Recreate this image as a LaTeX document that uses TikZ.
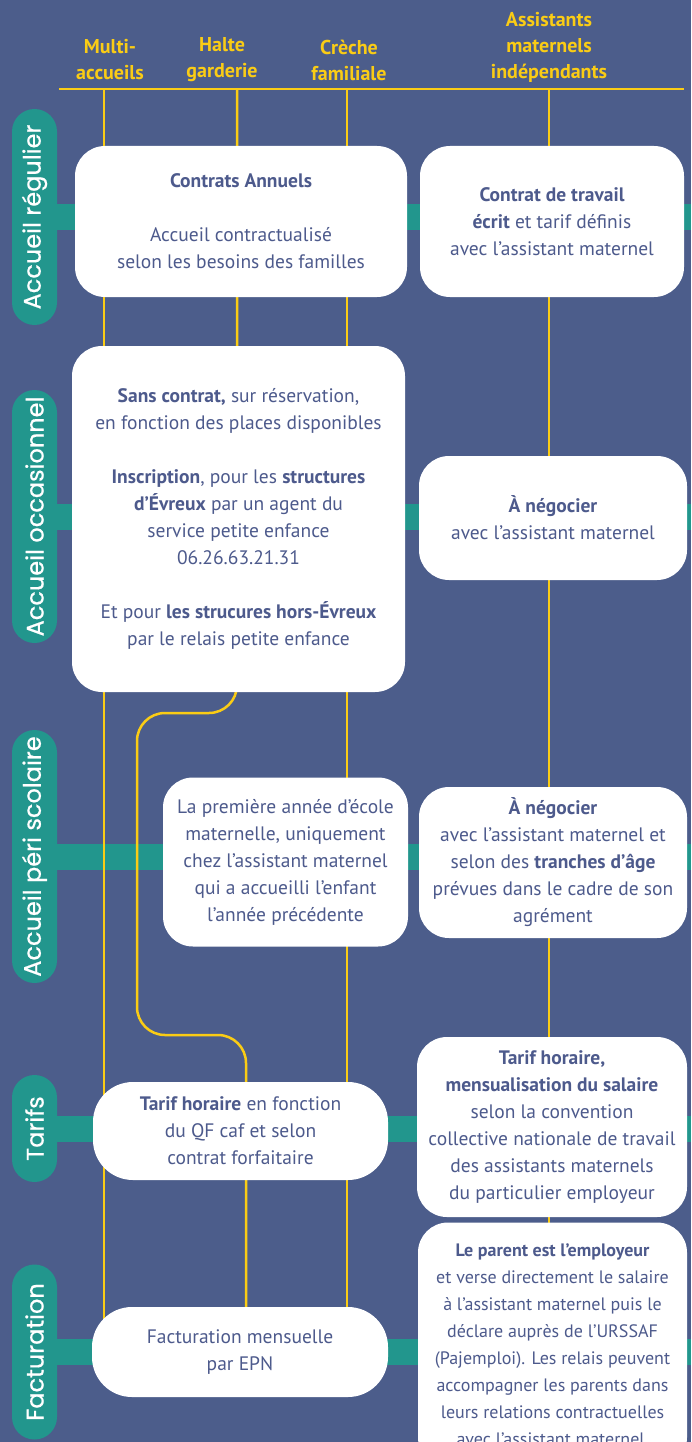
\documentclass[tikz,border=0pt]{standalone}
\usepackage{fontspec}
\setmainfont{PT Sans}
\newfontfamily\pillfont[FakeBold=0.6]{Poppins}
\usetikzlibrary{backgrounds}
\definecolor{bgblue}{RGB}{76,93,139}
\definecolor{bandteal}{RGB}{34,150,141}
\definecolor{lineyellow}{RGB}{250,204,21}
\definecolor{boxtext}{RGB}{77,90,140}

\begin{document}
\begin{tikzpicture}[x=1pt,y=-1pt,
    box/.style={fill=white,rounded corners=30pt,inner sep=0pt,align=center,text=boxtext,font=\fontsize{19.5}{27}\selectfont},
    pill/.style={fill=bandteal,rounded corners=22.5pt,minimum height=45pt,inner sep=0pt,rotate=90,text=white,font=\pillfont\fontsize{24}{28}\selectfont},
    head/.style={text=lineyellow,align=center,inner sep=0pt,font=\bfseries\fontsize{20}{26}\selectfont},
    yline/.style={draw=lineyellow,line width=2.5pt},
    band/.style={draw=bandteal,line width=26pt}]
      \useasboundingbox (0,0) rectangle (691,1442);
      \clip (0,0) rectangle (691,1442);

      \coordinate (hdrL) at (59,89);
      \coordinate (hdrR) at (684,89);
      \coordinate (rEdge) at (691,0);
      \coordinate (cMulti) at (104,89);
      \coordinate (cHalte) at (237,89);
      \coordinate (cCreche) at (347,89);
      \coordinate (cAssist) at (549,89);
      \coordinate (cTarif) at (246,1035);

      \node[head] (hMulti) at (110,60) {Multi-\\accueils};
      \node[head] (hHalte) at (222,60) {Halte\\garderie};
      \node[head] (hCreche) at (349,60) {Crèche\\familiale};
      \node[head] (hAssist) at (549,47) {Assistants\\maternels\\indépendants};

      \node[pill,minimum width=216pt] (lblReg) at (34.5,217) {Accueil régulier};
      \node[pill,minimum width=253pt] (lblOcc) at (34.5,516.5) {Accueil occasionnel};
      \node[pill,minimum width=253pt] (lblPeri) at (34.5,856.5) {Accueil péri scolaire};
      \node[pill,minimum width=107pt] (lblTar) at (34.5,1128.5) {Tarifs};
      \node[pill,minimum width=175pt] (lblFac) at (34.5,1352) {Facturation};

      \node[box,minimum width=332pt,minimum height=151pt] (regA) at (241,221.5) {\textbf{Contrats Annuels}\\[27pt]Accueil contractualisé\\selon les besoins des familles};
      \node[box,minimum width=264pt,minimum height=151pt] (regB) at (552,221.5) {\textbf{Contrat de travail}\\\textbf{écrit} et tarif définis\\avec l’assistant maternel};
      \node[box,minimum width=333pt,minimum height=346pt] (occA) at (238.5,519) {\textbf{Sans contrat,} sur réservation,\\en fonction des places disponibles\\[27pt]\textbf{Inscription}, pour les \textbf{structures}\\\textbf{d’Évreux} par un agent du\\service petite enfance\\06.26.63.21.31\\[27pt]Et pour \textbf{les strucures hors-Évreux}\\par le relais petite enfance};
      \node[box,minimum width=268pt,minimum height=124pt] (occB) at (553,518) {\textbf{À négocier}\\avec l’assistant maternel};
      \node[box,minimum width=245pt,minimum height=169pt] (periA) at (285.5,862) {La première année d’école\\maternelle, uniquement\\chez l’assistant maternel\\qui a accueilli l’enfant\\l’année précédente};
      \node[box,minimum width=268pt,minimum height=151pt] (periB) at (553,862.5) {\textbf{À négocier}\\avec l’assistant maternel et\\selon des \textbf{tranches d’âge}\\prévues dans le cadre de son\\agrément};
      \node[box,rounded corners=40pt,minimum width=295pt,minimum height=98pt] (tarA) at (240.5,1131) {\textbf{Tarif horaire} en fonction\\du QF caf et selon\\contrat forfaitaire};
      \node[box,minimum width=270pt,minimum height=180pt] (tarB) at (552,1127) {\textbf{Tarif horaire,}\\\textbf{mensualisation du salaire}\\selon la convention\\collective nationale de travail\\des assistants maternels\\du particulier employeur};
      \node[box,rounded corners=40pt,minimum width=296pt,minimum height=90pt] (facA) at (240,1352) {Facturation mensuelle\\par EPN};
      \node[box,font=\fontsize{18}{27}\selectfont,minimum width=269pt,minimum height=245pt] (facB) at (552.5,1345) {\textbf{Le parent est l’employeur}\\et verse directement le salaire\\à l’assistant maternel puis le\\déclare auprès de l’URSSAF\\(Pajemploi). Les relais peuvent\\accompagner les parents dans\\leurs relations contractuelles\\avec l’assistant maternel.};

      \begin{scope}[on background layer]
        \fill[bgblue] (0,0) rectangle (691,1442);
        \draw[band] (lblReg.center) -- (lblReg.center -| rEdge);
        \draw[band] (lblOcc.center) -- (lblOcc.center -| rEdge);
        \draw[band] (lblPeri.center) -- (lblPeri.center -| rEdge);
        \draw[band] (lblTar.center) -- (lblTar.center -| rEdge);
        \draw[band] (lblFac.center) -- (lblFac.center -| rEdge);
        \draw[yline] (hdrL) -- (hdrR);
        \draw[yline] (cMulti) -- (cMulti |- facA.center);
        \draw[yline] (cCreche) -- (cCreche |- facA.center);
        \draw[yline] (cAssist) -- (cAssist |- facB.center);
        \draw[yline,rounded corners=28pt] (cHalte) -- (237,713) -- (137,713) -- (137,1035) -- (cTarif) -- (cTarif |- facA.center);
      \end{scope}
    \end{tikzpicture}
\end{document}
